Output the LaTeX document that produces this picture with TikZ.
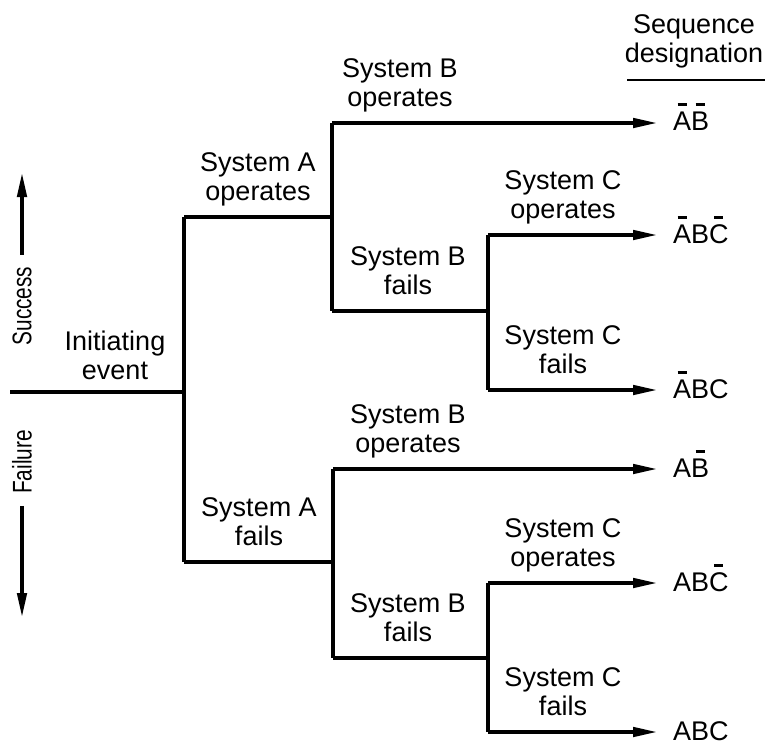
\documentclass[tikz,border=0pt]{standalone}
\usepackage{fontspec}
\setmainfont{Liberation Sans}
\usetikzlibrary{arrows.meta,calc}

% letter with a short bar above it (complemented event)
\newcommand\seqbar[1]{\setbox0=\hbox{#1}\rlap{\hbox to\wd0{\hss\rule[\dimexpr\ht0+5pt\relax]{9pt}{3pt}\hss}}\box0}

\begin{document}
\begin{tikzpicture}[x=1pt,y=-1pt,
  branch/.style={line width=3.2pt},
  leaf/.style={branch,-{Triangle[length=24pt,width=9.5pt]}},
  txt/.style={font=\fontsize{27}{29}\selectfont,inner sep=0pt},
  lbl/.style={txt,align=center,anchor=south,text depth=0pt},
  seq/.style={txt,anchor=base west},
  side/.style={txt,rotate=90}]
\useasboundingbox (0,0) rectangle (766,745);

% junction points of the tree
\coordinate (start) at (10,392);
\coordinate (root)  at (184,392);
\coordinate (aop)   at (184,217);
\coordinate (afl)   at (184,562);
\coordinate (b1)    at (332,217);
\coordinate (b1op)  at (332,123);
\coordinate (b1fl)  at (332,311);
\coordinate (c1)    at (488,311);
\coordinate (c1op)  at (488,235);
\coordinate (c1fl)  at (488,390);
\coordinate (b2)    at (333,562);
\coordinate (b2op)  at (333,469);
\coordinate (b2fl)  at (333,658);
\coordinate (c2)    at (488,658);
\coordinate (c2op)  at (488,583);
\coordinate (c2fl)  at (488,732);

% arrow ends at the sequence column
\coordinate (e1) at (657,123);
\coordinate (e2) at (657,235);
\coordinate (e3) at (657,390);
\coordinate (e4) at (657,469);
\coordinate (e5) at (657,583);
\coordinate (e6) at (657,732);

% tree lines
\draw[branch] (start) -- (root);
\draw[branch] (aop) -- (afl);
\draw[branch] (aop) -- (b1);
\draw[branch] (afl) -- (b2);
\draw[branch] (b1op) -- (b1fl);
\draw[branch] (b2op) -- (b2fl);
\draw[branch] (b1fl) -- (c1);
\draw[branch] (b2fl) -- (c2);
\draw[branch] (c1op) -- (c1fl);
\draw[branch] (c2op) -- (c2fl);
\draw[leaf] (b1op) -- (e1);
\draw[leaf] (c1op) -- (e2);
\draw[leaf] (c1fl) -- (e3);
\draw[leaf] (b2op) -- (e4);
\draw[leaf] (c2op) -- (e5);
\draw[leaf] (c2fl) -- (e6);

% branch labels
\node[lbl] (init) at (115,380) {Initiating\\event};
\node[lbl] (la1) at (258,201) {System A\\operates};
\node[lbl] (la2) at (259,546) {System A\\fails};
\node[lbl] (lb1) at (400,107) {System B\\operates};
\node[lbl] (lb2) at (408,295) {System B\\fails};
\node[lbl] (lb3) at (408,453) {System B\\operates};
\node[lbl] (lb4) at (408,642) {System B\\fails};
\node[lbl] (lc1) at (563,219) {System C\\operates};
\node[lbl] (lc2) at (563,374) {System C\\fails};
\node[lbl] (lc3) at (563,567) {System C\\operates};
\node[lbl] (lc4) at (563,716) {System C\\fails};

% sequence designations
\node[lbl] (head) at (694,63) {Sequence\\designation};
\coordinate (ul0) at (627,80);
\coordinate (ul1) at (765,80);
\draw[line width=2.8pt] (ul0) -- (ul1);
\node[seq] (s1) at ($(e1)+(16,7)$) {\seqbar{A}\seqbar{B}};
\node[seq] (s2) at ($(e2)+(16,8)$) {\seqbar{A}B\seqbar{C}};
\node[seq] (s3) at ($(e3)+(16,8)$) {\seqbar{A}BC};
\node[seq] (s4) at ($(e4)+(16,8)$) {A\seqbar{B}};
\node[seq] (s5) at ($(e5)+(16,8)$) {AB\seqbar{C}};
\node[seq] (s6) at ($(e6)+(16,8)$) {ABC};

% success / failure direction
\node[side] (succ) at (22,306) {\scalebox{0.77}[1]{Success}};
\node[side] (fail) at (22,462) {\scalebox{0.77}[1]{Failure}};
\coordinate (sup0) at (22,173);
\coordinate (fdn0) at (22,617);
\draw[leaf] (succ.east) ++(0,-12) coordinate (sbase) -- (sup0);
\draw[leaf] (fail.west) ++(0,12) coordinate (fbase) -- (fdn0);
\end{tikzpicture}
\end{document}
